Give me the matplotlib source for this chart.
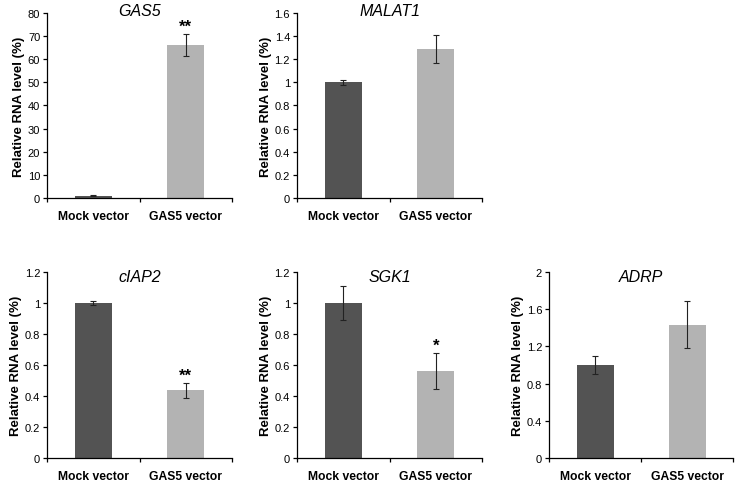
import numpy as np
import matplotlib
matplotlib.use("Agg")
import matplotlib.pyplot as plt
from matplotlib.ticker import MultipleLocator, FuncFormatter

plt.rcParams["font.family"] = ["Liberation Sans", "DejaVu Sans"]

# dados
genes = ["GAS5", "MALAT1", "cIAP2", "SGK1", "ADRP"]
grupos = ["Mock vector", "GAS5 vector"]
mock_vals = [1.0, 1.0, 1.0, 1.0, 1.0]
mock_err = [0.3, 0.02, 0.013, 0.11, 0.1]
gas5_vals = [66.3, 1.29, 0.435, 0.56, 1.435]
gas5_err = [4.7, 0.12, 0.048, 0.118, 0.25]
estrelas = ["**", "", "**", "*", ""]
ymax = [80, 1.6, 1.2, 1.2, 2]
ypasso = [10, 0.2, 0.2, 0.2, 0.4]

cor_mock = "#535353"
cor_gas5 = "#b3b3b3"

fig = plt.figure(figsize=(7.37, 4.85), dpi=100)

# posicoes dos paineis (fracao da figura)
posicoes = [
    [0.064, 0.590, 0.251, 0.381],
    [0.403, 0.590, 0.251, 0.381],
    [0.064, 0.054, 0.251, 0.383],
    [0.403, 0.054, 0.251, 0.383],
    [0.745, 0.054, 0.250, 0.383],
]
titulo_y = [1.012, 1.012, 0.978, 0.978, 0.978]

for i, gene in enumerate(genes):
    ax = fig.add_axes(posicoes[i])
    x = np.arange(len(grupos))
    vals = [mock_vals[i], gas5_vals[i]]
    errs = [mock_err[i], gas5_err[i]]
    ax.bar(x, vals, width=0.4, color=[cor_mock, cor_gas5],
           yerr=errs, error_kw=dict(ecolor="#222222", elinewidth=0.8,
                                    capsize=2.5, capthick=0.8))

    if estrelas[i]:
        ax.annotate(estrelas[i], (x[1], vals[1] + errs[1]),
                    xytext=(0, 0), textcoords="offset points",
                    ha="center", va="bottom", fontsize=12, fontweight="bold")

    ax.set_xlim(-0.5, 1.5)
    ax.set_ylim(0, ymax[i])
    ax.yaxis.set_major_locator(MultipleLocator(ypasso[i]))
    ax.yaxis.set_major_formatter(FuncFormatter(lambda v, p: f"{v:g}"))

    ax.set_xticks(x)
    ax.set_xticklabels(grupos, fontweight="bold", fontsize=8.7)
    ax.set_xticks([-0.5, 0.5, 1.5], minor=True)
    ax.tick_params(axis="x", which="major", length=0, pad=9)
    ax.tick_params(axis="x", which="minor", length=3, width=0.9, direction="out")
    ax.tick_params(axis="y", length=3, width=0.9, labelsize=8, pad=2)

    for lado in ["top", "right"]:
        ax.spines[lado].set_visible(False)
    for lado in ["left", "bottom"]:
        ax.spines[lado].set_linewidth(0.9)

    ax.set_ylabel("Relative RNA level (%)", fontweight="bold", fontsize=9.5,
                  labelpad=2)
    ax.text(0.5, titulo_y[i], gene, transform=ax.transAxes, ha="center",
            va="center", fontsize=11.5, style="italic")

plt.savefig("out.png", dpi=100)
